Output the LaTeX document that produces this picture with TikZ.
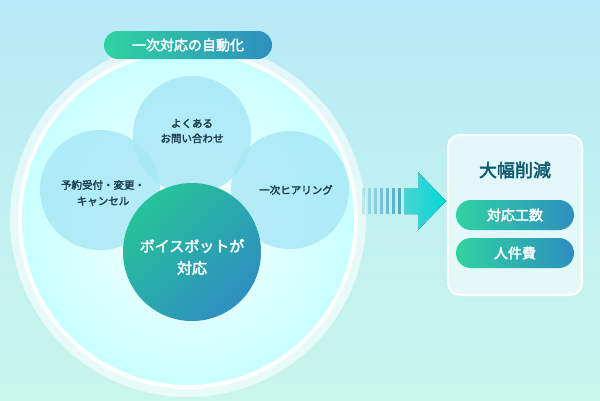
\documentclass[tikz,border=0pt]{standalone}
\usepackage{fontspec}
\setmainfont{Noto Sans CJK JP}[AutoFakeBold=2.5]
\usetikzlibrary{shadings,fadings,arrows.meta}
\definecolor{gA}{HTML}{2FD3A0}
\definecolor{gB}{HTML}{2E8FC0}
\definecolor{bgT}{HTML}{B7EAF8}
\definecolor{bgB}{HTML}{C9F6EA}
\definecolor{dk}{HTML}{0E5A6E}
\definecolor{txt}{HTML}{1C3E4E}
\definecolor{bubc}{HTML}{A6E6F6}
\tikzset{
 pill/.style={rounded corners=14pt,left color=gA,right color=gB,draw=none,text=white,font=\bfseries\fontsize{14}{14}\selectfont,minimum height=28pt,inner sep=0pt},
 bub/.style={circle,fill=bubc,fill opacity=0.8,draw=none,inner sep=0pt},
}
\begin{document}
\begin{tikzpicture}[x=1pt,y=-1pt]
\shade[top color=bgT,bottom color=bgB] (0,0) rectangle (600,400);
\useasboundingbox (0,0) rectangle (600,400);
% big circle
\shade[inner color=white,outer color=cyan!22!white] (188,219) circle (170);
\draw[white,line width=4pt] (188,219) circle (168);
\draw[white,opacity=0.6,line width=8pt] (188,219) circle (174);
% small circles
\node[bub,minimum size=118pt] (top) at (192,135) {};
\node[bub,minimum size=120pt] (lf) at (100,190) {};
\node[bub,minimum size=118pt] (rt) at (290,190) {};
\node[circle,minimum size=138pt,inner sep=0pt,draw=none,left color=gA!80!teal,right color=gB,shading angle=45] (ctr) at (192,252) {};
\node[text=txt,font=\bfseries\fontsize{10.5}{15}\selectfont,align=center] at (192,131) {よくある\\お問い合わせ};
\node[text=txt,font=\bfseries\fontsize{10.5}{16}\selectfont,align=center] at (103,193) {予約受付・変更・\\キャンセル};
\node[text=txt,font=\bfseries\fontsize{10.5}{15}\selectfont,align=center] at (296,190) {一次ヒアリング};
\node[text=white,font=\bfseries\fontsize{15}{22}\selectfont,align=center] at (192,257) {ボイスボットが\\対応};
% label pill
\node[pill,minimum width=168pt] (lab) at (188,45) {一次対応の自動化};
% arrow stripes
\foreach \x/\o in {362/0.2,368/0.3,374/0.4,380/0.5,386/0.6,392/0.7,398/0.8}
  \fill[cyan!60!teal,opacity=\o] (\x,188) rectangle (\x+3,214);
\fill[left color=cyan!50!teal!70,right color=cyan!70!teal] (404,188) -- (418,188) -- (418,172) -- (446,201) -- (418,230) -- (418,214) -- (404,214) -- cycle;
% right panel
\node[draw=white,line width=2pt,fill=white,fill opacity=0.55,rounded corners=12pt,minimum width=134pt,minimum height=160pt] (pan) at (515,215) {};
\node[text=dk,font=\bfseries\fontsize{18}{18}\selectfont] (big) at (515,170) {大幅削減};
\node[pill,minimum width=118pt,minimum height=30pt,rounded corners=15pt] (p1) at (515,215) {対応工数};
\node[pill,minimum width=118pt,minimum height=30pt,rounded corners=15pt] (p2) at (515,253) {人件費};
\end{tikzpicture}
\end{document}
